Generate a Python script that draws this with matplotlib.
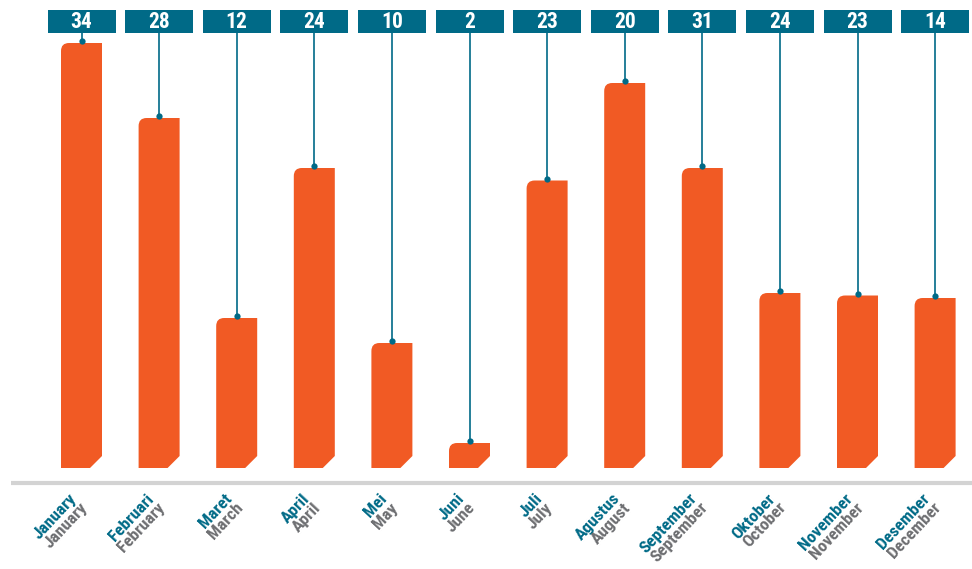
import matplotlib
matplotlib.use("Agg")
import matplotlib.pyplot as plt
from matplotlib.path import Path
from matplotlib.patches import PathPatch, Rectangle
from matplotlib import font_manager

# ---------------- data ----------------
months_id = ["January", "Februari", "Maret", "April", "Mei", "Juni", "Juli",
             "Agustus", "September", "Oktober", "November", "Desember"]
months_en = ["January", "February", "March", "April", "May", "June", "July",
             "August", "September", "October", "November", "December"]
bar_values = [34, 28, 12, 24, 10, 2, 23, 30.8, 24, 14, 13.8, 13.6]
label_values = [34, 28, 12, 24, 10, 2, 23, 20, 31, 24, 23, 14]

# ---------------- style ----------------
ORANGE = "#F15A24"
TEAL = "#006A87"
GRAY = "#6D6E71"
LINE_GRAY = "#D3D3D3"

avail = {f.name for f in font_manager.fontManager.ttflist}
cands = ["Roboto Condensed", "Liberation Sans Narrow", "Open Sans Condensed",
         "Noto Sans Condensed", "DejaVu Sans Condensed", "Roboto", "DejaVu Sans"]
FONT = next((c for c in cands if c in avail), "DejaVu Sans")

W, H = 972, 569
fig = plt.figure(figsize=(W / 100, H / 100), dpi=100)
ax = fig.add_axes([0, 0, 1, 1])

# pixel <-> data mapping
X0, DX = 81.5, 77.6      # px of first category center, px per category
Y0, DY = 468.0, 12.5     # px of baseline, px per unit
ax.set_xlim(-X0 / DX, (W - X0) / DX)
ax.set_ylim((Y0 - H) / DY, Y0 / DY)
ax.axis("off")

def px_x(p):  # pixel length -> data units (x)
    return p / DX

def px_y(p):
    return p / DY

bw = px_x(41)
r_x, r_y = px_x(8), px_y(8)
c_x, c_y = px_x(12), px_y(12)

for i, v in enumerate(bar_values):
    l, rgt = i - bw / 2, i + bw / 2
    t = v
    verts = [
        (l, 0), (rgt - c_x, 0), (rgt, c_y), (rgt, t), (l + r_x, t),
        (l, t), (l, t - r_y), (l, 0)
    ]
    codes = [Path.MOVETO, Path.LINETO, Path.LINETO, Path.LINETO, Path.LINETO,
             Path.CURVE3, Path.CURVE3, Path.CLOSEPOLY]
    ax.add_patch(PathPatch(Path(verts, codes), facecolor=ORANGE, edgecolor="none"))

    # label box
    box_w = px_x(68)
    box_bot = (Y0 - 33) / DY
    box_h = px_y(23)
    ax.add_patch(Rectangle((i - box_w / 2, box_bot), box_w, box_h,
                           facecolor=TEAL, edgecolor="none"))
    ax.text(i, box_bot + box_h / 2 - px_y(0.5), str(label_values[i]), color="white",
            fontsize=15.5, fontweight="bold", family=FONT,
            ha="center", va="center")
    # connector
    dot_y = t + px_y(2)
    ax.plot([i, i], [box_bot, dot_y], color=TEAL, lw=1.2)
    ax.plot([i], [dot_y], marker="o", ms=4.5, color=TEAL, mec="none")

    # tick labels (two lines, rotated)
    tx = i - px_x(13)
    ty = (Y0 - 491) / DY
    ax.text(tx, ty, months_id[i], color=TEAL, fontsize=12.5, fontweight="bold",
            family=FONT, rotation=47, rotation_mode="anchor",
            ha="right", va="top")
    ax.text(tx + px_x(11), ty - px_y(9), months_en[i], color=GRAY,
            fontsize=12.5, fontweight="bold", family=FONT, rotation=47,
            rotation_mode="anchor", ha="right", va="top")

# baseline
ax.plot([(11 - X0) / DX, (W - X0) / DX], [(Y0 - 483) / DY] * 2,
        color=LINE_GRAY, lw=3, solid_capstyle="butt")

fig.savefig("out.png", dpi=100)
